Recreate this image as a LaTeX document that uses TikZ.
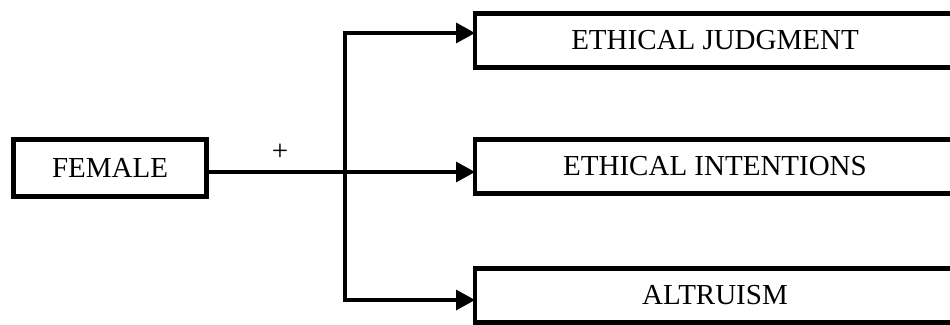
\documentclass[tikz,border=0pt]{standalone}
\usepackage{fontspec}
\setmainfont{Liberation Serif}
\usetikzlibrary{arrows.meta}
\tikzset{
    factor/.style={draw, line width=2.3pt, minimum width=3.86cm, minimum height=1.14cm,
    font=\fontsize{16.5}{20}\selectfont, inner sep=0pt, outer sep=0pt},
    outcome/.style={factor, minimum width=9.6cm, minimum height=1.08cm},
    sign/.style={font=\fontsize{16.5}{20}\selectfont, inner sep=0pt},
}

\begin{document}
\begin{tikzpicture}[
            >={Triangle[length=3.8mm, width=4mm]},
            link/.style={line width=2pt}
        ]
            \useasboundingbox (0,0) rectangle (19,-6.5);
            % predictor
            \node[factor] (female) at (2.2,-3.36) {FEMALE};
            % outcomes
            \node[outcome] (judg) at (14.3,-0.81) {ETHICAL JUDGMENT};
            \node[outcome] (intent) at (14.3,-3.33) {ETHICAL INTENTIONS};
            \node[outcome] (altru) at (14.3,-5.91) {ALTRUISM};
            % branch
            \coordinate (split) at (6.9,-3.44);
            \node[sign] (plus) at (5.6,-3.04) {+};
            \draw[link] ([yshift=-0.8mm]female.east) -- (split);
            \draw[link,->] (split) |- ([yshift=1.5mm]judg.west);
            \draw[link,->] (split) -- (split -| intent.west);
            \draw[link,->] (split) |- ([yshift=-0.9mm]altru.west);
        \end{tikzpicture}
\end{document}
